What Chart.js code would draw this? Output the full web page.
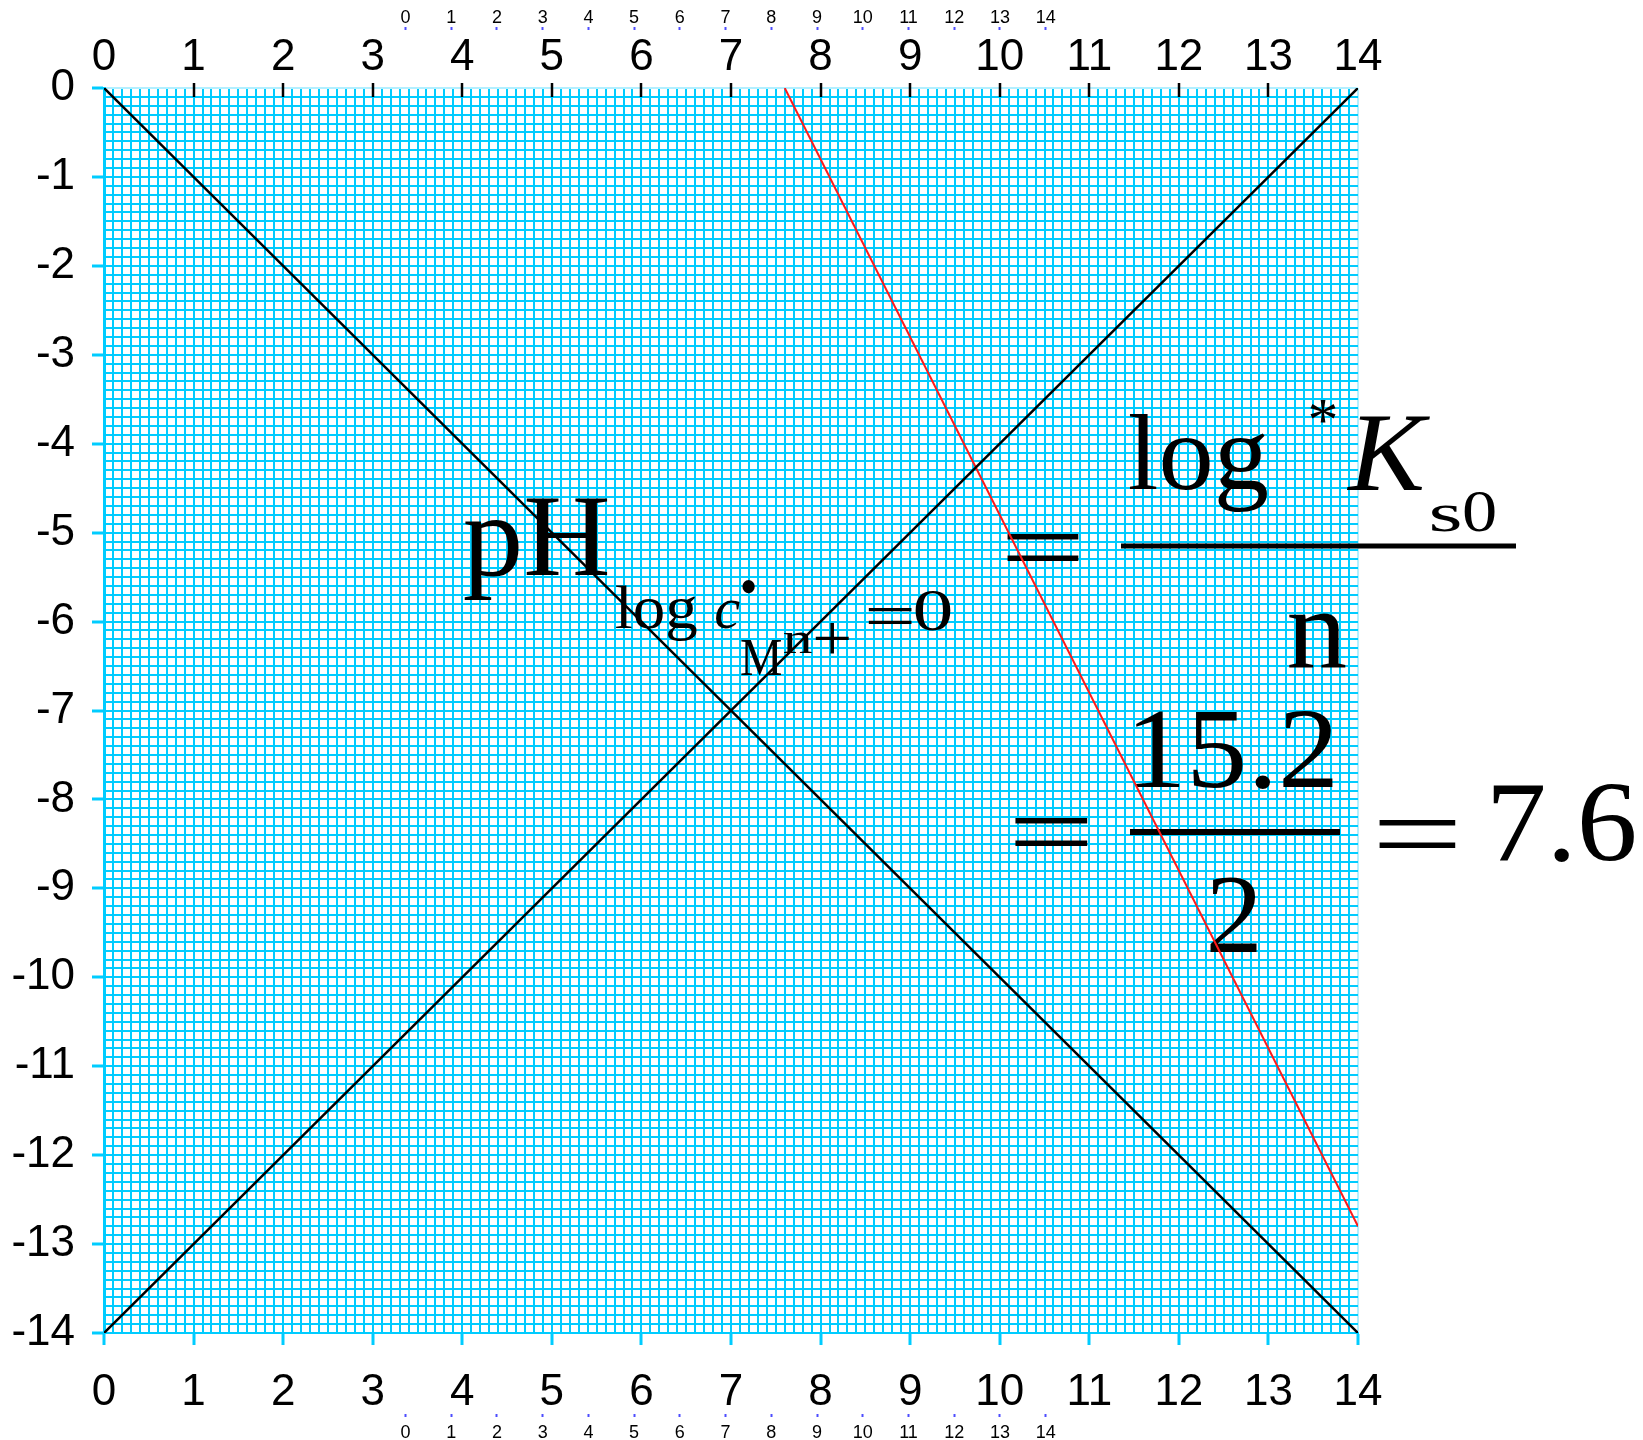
<!DOCTYPE html>
<html>
<head>
<meta charset="utf-8">
<title>pH log c</title>
<script src="https://cdn.jsdelivr.net/npm/chart.js@4.4.0/dist/chart.umd.min.js"></script>
<style>
  html, body { margin: 0; padding: 0; background: #fff; }
  #app { width: 1643px; height: 1440px; }
</style>
</head>
<body>
<div id="app"><canvas id="myChart" width="1643" height="1440"></canvas></div>
<script>
// data
const pHEnds = [0, 14]
const logH = [0, -14]          // log c(H+) = -pH
const logOH = [-14, 0]         // log c(OH-) = pH - 14
const pHMetal = [7.6, 14]
const logMetal = [0, -12.8]    // log c(M n+) = 15.2 - 2 pH
const xTickLabels = ['0','1','2','3','4','5','6','7','8','9','10','11','12','13','14']
const yTickLabels = ['0','-1','-2','-3','-4','-5','-6','-7','-8','-9','-10','-11','-12','-13','-14']
const smallTicks = [0,1,2,3,4,5,6,7,8,9,10,11,12,13,14]

const cyan = '#00ccff'
const pale = '#b3efff'
const sans = '"Liberation Sans", Arial, sans-serif'
const serif = '"Liberation Serif", "Times New Roman", serif'

const isWhole = v => Math.abs(v - Math.round(v)) < 1e-6
const toPoints = (xs, ys) => xs.map((x, i) => ({ x: x, y: ys[i] }))

// formula pieces: ink box (left, right, top) and baseline or ink bottom
const formula = [
  { t: 'pH', x1: 464, x2: 608, top: 499, base: 575 },
  { t: 'log', x1: 616, x2: 697, top: 585, base: 628 },
  { t: 'c', x1: 716, x2: 740, top: 600, base: 628, it: true },
  { t: '\u2022', x1: 742, x2: 755, top: 581, bot: 594 },
  { t: 'M', x1: 741, x2: 781, top: 640, base: 675 },
  { t: 'n', x1: 784, x2: 812, top: 632, base: 653 },
  { t: '+', x1: 815, x2: 849, top: 622, bot: 653 },
  { t: '=', x1: 868, x2: 912, top: 608, bot: 624 },
  { t: '0', x1: 915, x2: 951, top: 591, base: 630 },
  { t: '=', x1: 1006, x2: 1079, top: 533, bot: 560 },
  { t: 'log', x1: 1130, x2: 1268, top: 414, base: 489 },
  { t: '*', x1: 1310, x2: 1336, top: 400, bot: 423 },
  { t: 'K', x1: 1346, x2: 1430, top: 417, base: 490, it: true },
  { t: 's', x1: 1432, x2: 1460, top: 505, base: 531 },
  { t: '0', x1: 1464, x2: 1495, top: 492, base: 531 },
  { t: 'n', x1: 1289, x2: 1346, top: 613, base: 667 },
  { t: '=', x1: 1014, x2: 1088, top: 817, bot: 845 },
  { t: '15.2', x1: 1135, x2: 1333, top: 712, base: 787 },
  { t: '2', x1: 1210, x2: 1257, top: 878, base: 952 },
  { t: '=', x1: 1378, x2: 1456, top: 819, bot: 847 },
  { t: '7.6', x1: 1493, x2: 1635, top: 785, base: 860 },
]
const fracBars = [
  { x1: 1121, x2: 1516, y: 546, w: 5 },
  { x1: 1130, x2: 1340, y: 832, w: 6 },
]

function drawPiece(ctx, p) {
  ctx.font = (p.it ? 'italic ' : '') + '100px ' + serif
  ctx.textAlign = 'left'
  ctx.textBaseline = 'alphabetic'
  const m = ctx.measureText(p.t)
  const w = m.actualBoundingBoxLeft + m.actualBoundingBoxRight
  const sx = (p.x2 - p.x1) / w
  const sy = p.base != null
    ? (p.base - p.top) / m.actualBoundingBoxAscent
    : (p.bot - p.top) / (m.actualBoundingBoxAscent + m.actualBoundingBoxDescent)
  ctx.save()
  ctx.translate(p.x1, p.top)
  ctx.scale(sx, sy)
  ctx.fillText(p.t, m.actualBoundingBoxLeft, m.actualBoundingBoxAscent)
  ctx.restore()
}

const formulaPlugin = {
  id: 'formula',
  beforeDatasetsDraw(chart) {
    const ctx = chart.ctx
    ctx.save()
    ctx.fillStyle = '#000'
    formula.forEach(p => drawPiece(ctx, p))
    ctx.strokeStyle = '#000'
    ctx.lineCap = 'butt'
    fracBars.forEach(b => {
      ctx.lineWidth = b.w
      ctx.beginPath()
      ctx.moveTo(b.x1, b.y)
      ctx.lineTo(b.x2, b.y)
      ctx.stroke()
    })
    ctx.restore()
  }
}

// black tick marks on the top edge, drawn inward
const topTicksPlugin = {
  id: 'topTicks',
  afterDatasetsDraw(chart) {
    const ctx = chart.ctx
    const s = chart.scales.xTop
    const top = chart.chartArea.top
    ctx.save()
    ctx.strokeStyle = '#000'
    ctx.lineWidth = 2.5
    s.ticks.forEach(t => {
      if (t.value <= 0 || t.value >= 14) return
      const x = Math.round(s.getPixelForValue(t.value))
      ctx.beginPath()
      ctx.moveTo(x, top - 5)
      ctx.lineTo(x, top + 9)
      ctx.stroke()
    })
    ctx.restore()
  }
}

const ctx = document.getElementById('myChart').getContext('2d')
new Chart(ctx, {
  type: 'scatter',
  data: {
    datasets: [
      { data: toPoints(pHEnds, logH), borderColor: '#000', borderWidth: 2.5, showLine: true, pointRadius: 0 },
      { data: toPoints(pHEnds, logOH), borderColor: '#000', borderWidth: 2.5, showLine: true, pointRadius: 0 },
      { data: toPoints(pHMetal, logMetal), borderColor: '#ff1a1a', borderWidth: 2, showLine: true, pointRadius: 0 },
    ]
  },
  plugins: [formulaPlugin, topTicksPlugin],
  options: {
    responsive: false,
    animation: false,
    layout: { padding: { left: 0, top: 0, right: 285, bottom: 0 } },
    plugins: {
      legend: { display: false },
      tooltip: { enabled: false }
    },
    scales: {
      x: {
        type: 'linear', position: 'bottom', min: 0, max: 14,
        afterFit: s => { s.height = 81 },
        grid: {
          color: c => (c.tick && c.tick.value >= 14 - 1e-6) ? pale : cyan,
          lineWidth: 2,
          tickLength: 12,
          tickWidth: 3,
          tickColor: c => (c.tick && isWhole(c.tick.value)) ? cyan : 'transparent'
        },
        border: { color: cyan, width: 2 },
        ticks: {
          stepSize: 0.1, autoSkip: false, maxRotation: 0, padding: 21,
          color: '#000', font: { family: sans, size: 44 },
          callback: v => isWhole(v) ? xTickLabels[Math.round(v)] : ''
        }
      },
      xSmallBottom: {
        type: 'linear', position: 'bottom', weight: 1, min: -6.593, max: 20.83,
        afterFit: s => { s.height = 26 },
        afterBuildTicks: s => { s.ticks = smallTicks.map(v => ({ value: v })) },
        grid: { drawOnChartArea: false, tickLength: 3, tickWidth: 2, tickColor: '#4d4dff' },
        border: { display: false },
        ticks: {
          autoSkip: false, maxRotation: 0, padding: 5,
          color: '#000', font: { family: sans, size: 18 },
          callback: v => String(v)
        }
      },
      xTop: {
        type: 'linear', position: 'top', min: 0, max: 14,
        afterFit: s => { s.height = 58 },
        grid: { drawOnChartArea: false, drawTicks: false },
        border: { display: false },
        ticks: {
          stepSize: 1, autoSkip: false, maxRotation: 0, padding: 4,
          color: '#000', font: { family: sans, size: 44 },
          callback: v => xTickLabels[Math.round(v)]
        }
      },
      xSmallTop: {
        type: 'linear', position: 'top', weight: 1, min: -6.593, max: 20.83,
        afterFit: s => { s.height = 30 },
        afterBuildTicks: s => { s.ticks = smallTicks.map(v => ({ value: v })) },
        grid: { drawOnChartArea: false, tickLength: 3, tickWidth: 2, tickColor: '#4d4dff' },
        border: { display: false },
        ticks: {
          autoSkip: false, maxRotation: 0, padding: -2,
          color: '#000', font: { family: sans, size: 18 },
          callback: v => String(v)
        }
      },
      y: {
        type: 'linear', position: 'left', min: -14, max: 0,
        afterFit: s => { s.width = 104 },
        grid: {
          color: c => (c.tick && c.tick.value >= -1e-6) ? pale : cyan,
          lineWidth: 2,
          tickLength: 12,
          tickWidth: 3,
          tickColor: c => (c.tick && isWhole(c.tick.value)) ? cyan : 'transparent'
        },
        border: { color: cyan, width: 3 },
        ticks: {
          stepSize: 0.1, autoSkip: false, padding: 17,
          color: '#000', font: { family: sans, size: 44 },
          callback: v => isWhole(v) ? yTickLabels[-Math.round(v)] : ''
        }
      }
    }
  }
})
</script>
</body>
</html>
